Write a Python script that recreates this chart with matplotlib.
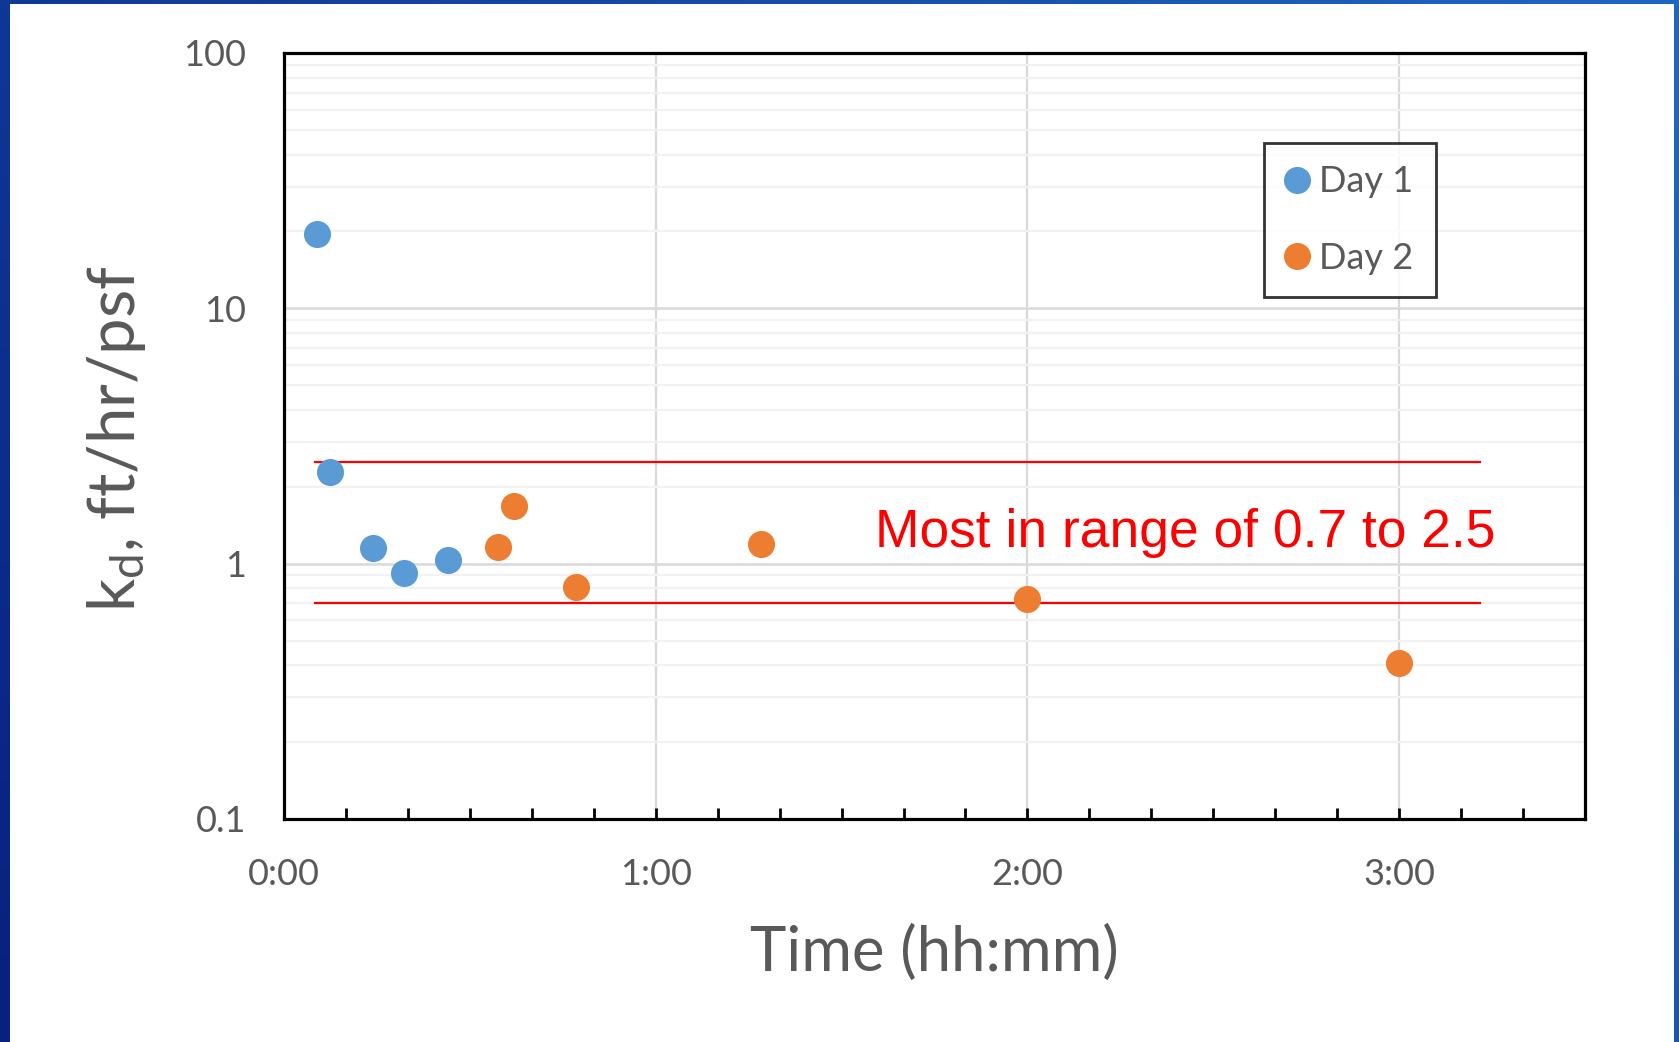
import numpy as np
import matplotlib
matplotlib.use('Agg')
import matplotlib.pyplot as plt
from matplotlib.ticker import FixedLocator, MultipleLocator, FuncFormatter, LogLocator, NullFormatter
from matplotlib.patches import Rectangle

plt.rcParams['font.family'] = ['Lato', 'DejaVu Sans']
plt.rcParams['mathtext.fontset'] = 'custom'
plt.rcParams['mathtext.rm'] = 'Lato'
plt.rcParams['mathtext.default'] = 'regular'

# elapsed time in minutes, kd in ft/hr/psf
day1_min = [5.3, 7.4, 14.4, 19.4, 26.5]
day1_kd = [19.5, 2.28, 1.15, 0.92, 1.03]
day2_min = [34.5, 37.1, 47.1, 77.0, 120.0, 180.0]
day2_kd = [1.16, 1.68, 0.81, 1.19, 0.73, 0.41]

range_low = 0.7
range_high = 2.5
range_min = [5, 193]

y_ticks = [0.1, 1, 10, 100]
y_ticklabels = ['0.1', '1', '10', '100']
x_major = [0, 60, 120, 180]

grey = '#595959'

fig = plt.figure(figsize=(16.79, 10.42), dpi=100)

# blue slide frame behind the white panel
bg = fig.add_axes([0, 0, 1, 1], zorder=-10)
c_tl = np.array([0x0f, 0x38, 0x96]) / 255.
c_bl = np.array([0x08, 0x20, 0x7e]) / 255.
c_tr = np.array([0x1f, 0x66, 0xc3]) / 255.
c_br = np.array([0x1a, 0x55, 0xb3]) / 255.
u = np.linspace(0, 1, 200)[None, :, None]
v = np.linspace(0, 1, 120)[:, None, None]
grad = (1 - v) * ((1 - u) * c_tl + u * c_tr) + v * ((1 - u) * c_bl + u * c_br)
bg.imshow(grad, aspect='auto', extent=[0, 1, 0, 1], origin='upper')
bg.add_patch(Rectangle((10 / 1679, 0), (1674 - 10) / 1679, 1 - 4 / 1042,
                       facecolor='white', edgecolor='none'))
bg.set_xlim(0, 1)
bg.set_ylim(0, 1)
bg.axis('off')

ax = fig.add_axes([284 / 1679, 223 / 1042, 1301 / 1679, 766 / 1042])
ax.set_yscale('log')
ax.set_ylim(0.1, 100)
ax.set_xlim(0, 210)

ax.plot(day1_min, day1_kd, 'o', color='#5b9bd5', markersize=19.5, markeredgewidth=0, label='Day 1', zorder=4)
ax.plot(day2_min, day2_kd, 'o', color='#ed7d31', markersize=19.5, markeredgewidth=0, label='Day 2', zorder=4)

ax.plot(range_min, [range_high, range_high], color='red', lw=1.6, zorder=3)
ax.plot(range_min, [range_low, range_low], color='red', lw=1.6, zorder=3)
ax.text(195.5, 1.32, 'Most in range of 0.7 to 2.5', color='red', fontsize=38.4,
        family='Liberation Sans', ha='right', va='center', zorder=5)

# axes formatting
ax.yaxis.set_major_locator(FixedLocator(y_ticks))
ax.set_yticklabels(y_ticklabels)
ax.yaxis.set_minor_locator(LogLocator(base=10, subs=np.arange(2, 10)))
ax.yaxis.set_minor_formatter(NullFormatter())
ax.xaxis.set_major_locator(FixedLocator(x_major))
ax.xaxis.set_minor_locator(MultipleLocator(10))
ax.xaxis.set_major_formatter(FuncFormatter(lambda m, p: '%d:%02d' % (m // 60, m % 60)))

ax.tick_params(axis='y', which='both', length=0, pad=27, labelsize=26, labelcolor=grey)
ax.tick_params(axis='x', which='both', direction='in', length=8, width=2, color='black',
               pad=28, labelsize=26, labelcolor=grey)

ax.grid(True, which='major', axis='y', color='#d9d9d9', lw=1.8, zorder=0)
ax.grid(True, which='minor', axis='y', color='#f2f2f2', lw=1.6, zorder=0)
ax.grid(True, which='major', axis='x', color='#d9d9d9', lw=1.6, zorder=0)
ax.set_axisbelow(True)

for s in ax.spines.values():
    s.set_linewidth(2.3)
    s.set_color('black')

leg = ax.legend(loc='upper left', bbox_to_anchor=((1264 - 284) / 1301, (819 - 143) / 766),
                fontsize=26, frameon=True, fancybox=False, handletextpad=0.31,
                labelspacing=1.2, borderpad=0.62, handlelength=0.6, markerscale=1.0,
                borderaxespad=0)
leg.get_frame().set_edgecolor('black')
leg.get_frame().set_linewidth(2)
for t in leg.get_texts():
    t.set_color(grey)

fig.text(116 / 1679, 1 - 439 / 1042, r'k$_\mathregular{d}$, ft/hr/psf', rotation=90,
         ha='center', va='center', fontsize=47, color=grey)
fig.text(934.5 / 1679, 1 - 953 / 1042, 'Time (hh:mm)', ha='center', va='center',
         fontsize=44.4, color=grey)

fig.savefig('out.png', dpi=100)
